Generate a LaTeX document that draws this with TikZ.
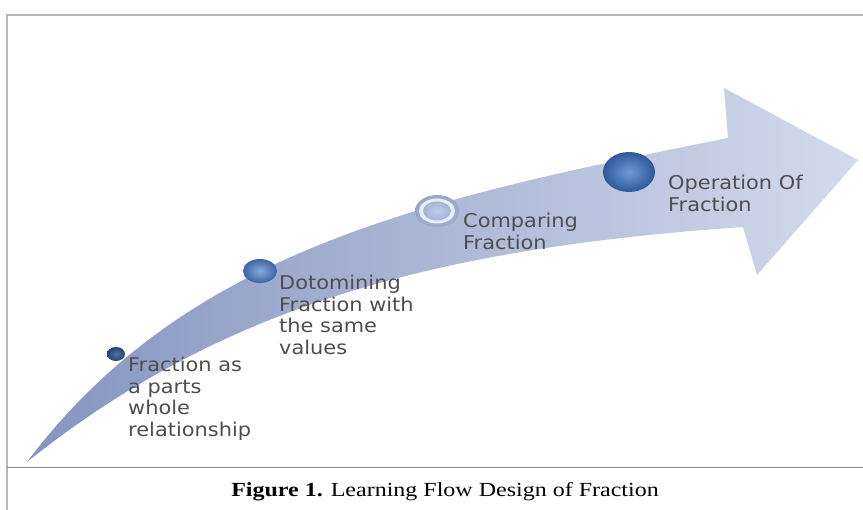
\documentclass[tikz,border=0pt]{standalone}
\usepackage{fontspec}
\setmainfont{Liberation Serif}
\newfontfamily\lblfont[FakeStretch=1.1]{DejaVu Sans}
\newfontfamily\capfont[FakeStretch=1.2]{Liberation Serif}
\usetikzlibrary{shapes.geometric}
\definecolor{labelgrey}{HTML}{4E4E4E}
\definecolor{framegrey}{HTML}{B8B8B8}
\definecolor{rulegrey}{HTML}{8C8C8C}
\definecolor{bandleft}{HTML}{8595C0}
\definecolor{bandmid}{HTML}{B8C2DE}
\definecolor{bandright}{HTML}{D3DAEC}
\definecolor{darkin}{RGB}{80,115,165}
\definecolor{darkout}{RGB}{40,65,110}
\definecolor{bluein}{RGB}{135,170,220}
\definecolor{blueout}{RGB}{60,100,165}
\definecolor{silverin}{RGB}{200,212,235}
\definecolor{silverout}{RGB}{150,165,200}
\definecolor{silverhl}{RGB}{232,238,248}
\definecolor{silvercore}{RGB}{190,205,232}
\definecolor{silvercoreout}{RGB}{165,180,212}
\definecolor{bigin}{RGB}{110,155,215}
\definecolor{bigout}{RGB}{45,88,155}
\begin{document}
\begin{tikzpicture}[x=1pt,y=-1pt,
  steplabel/.style={anchor=north west, align=left, inner sep=0pt, text=labelgrey,
    font=\lblfont\fontsize{19}{21.5}\selectfont},
  bead/.style={ellipse, inner sep=0pt, draw=none},
  arrowfill/.style={left color=bandleft, middle color=bandmid, right color=bandright}
]
\useasboundingbox (0,0) rectangle (863,510);
\fill[white] (0,0) rectangle (863,510);

% frame and caption rule
\draw[framegrey, line width=1.6pt] (7,510) -- (7,15) -- (863,15);
\draw[rulegrey, line width=0.9pt] (7,467) -- (863,467);

% curved progress arrow
\path[arrowfill] (27,462) .. controls (187,249) and (428,198) .. (728,138)
  -- (724,88) -- (858,160) -- (757,275) -- (743,227)
  .. controls (443,248) and (227,302) .. cycle;

% beads along the arrow
\node[bead, minimum width=18pt, minimum height=14pt, shading=radial,
      inner color=darkin, outer color=darkout] (b1) at (116,354) {};
\node[bead, minimum width=34pt, minimum height=24pt, shading=radial,
      inner color=bluein, outer color=blueout] (b2) at (260,271) {};
\node[bead, minimum width=44pt, minimum height=32pt, shading=radial,
      inner color=silverin, outer color=silverout] (b3) at (437,211) {};
\node[bead, minimum width=36pt, minimum height=25pt, fill=silverhl] (b3hl) at (437,211) {};
\node[bead, minimum width=28pt, minimum height=19pt, shading=radial,
      inner color=silvercore, outer color=silvercoreout] (b3in) at (437,211) {};
\node[bead, minimum width=52pt, minimum height=40pt, shading=radial,
      inner color=bigin, outer color=bigout] (b4) at (629,172) {};

% step labels
\node[steplabel] (t1) at (128,357) {Fraction as\\a parts\\whole\\relationship};
\node[steplabel] (t2) at (279,275) {Dotomining\\Fraction with\\the same\\values};
\node[steplabel] (t3) at (463,213) {Comparing\\Fraction};
\node[steplabel] (t4) at (668,175) {Operation Of\\Fraction};

% caption
\node[font=\capfont\fontsize{20}{24}\selectfont, inner sep=0pt] (caption) at (445,492)
  {\textbf{Figure 1.} Learning Flow Design of Fraction};
\end{tikzpicture}
\end{document}
